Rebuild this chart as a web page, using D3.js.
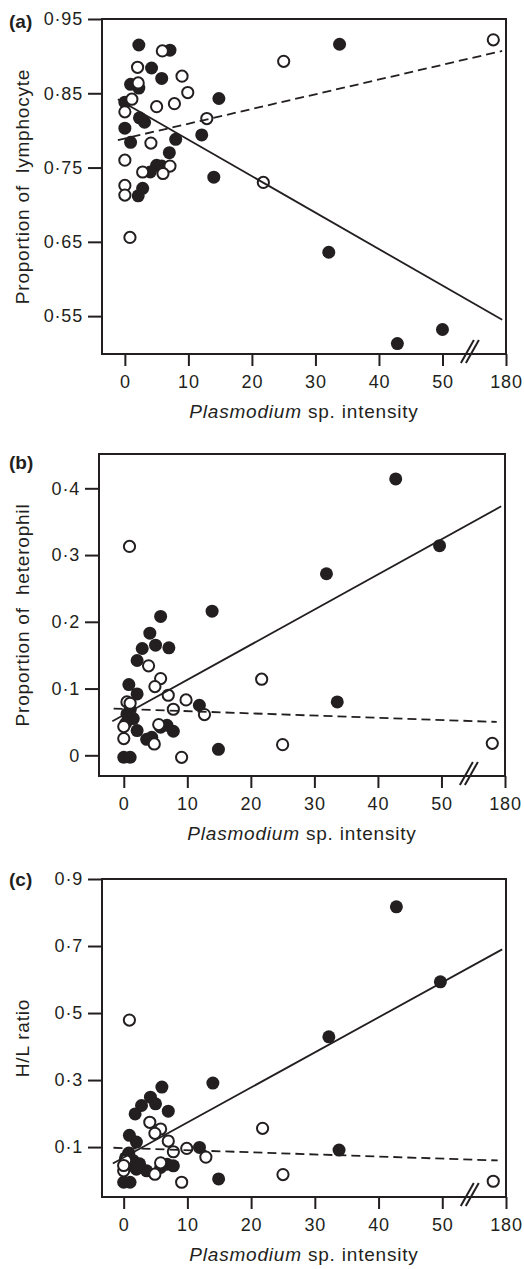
<!DOCTYPE html>
<html>
<head>
<meta charset="utf-8">
<script src="https://cdn.jsdelivr.net/npm/d3@7"></script>
<style>
    body { margin: 0; background: #fff; }
    svg text { font-family: "Liberation Sans", Arial, Helvetica, sans-serif; fill: #231f20; }
    .axis text { font-size: 18px; letter-spacing: 0.8px; }
    .axis line { stroke: #231f20; stroke-width: 2px; }
    .axis path { display: none; }
    .frame { fill: none; stroke: #231f20; stroke-width: 2px; }
    .axis-title { font-size: 19px; letter-spacing: 0.8px; white-space: pre; }
    .panel-label { font-size: 19px; font-weight: bold; }
    .fit { fill: none; stroke: #231f20; stroke-width: 1.8px; }
    .fit.dashed { stroke-dasharray: 9, 5; }
    .dot-filled { fill: #231f20; }
    .dot-open { fill: #fff; stroke: #231f20; stroke-width: 2px; }
    .break { stroke: #231f20; stroke-width: 2px; }
</style>
</head>
<body>
<div id="chart"></div>
<script>

// x axis is shared, 180 sits after the axis break
var intensityTicks = [0, 10, 20, 30, 40, 50, 180];

// (a) lymphocytes
var lymphTicks = [0.55, 0.65, 0.75, 0.85, 0.95];
var lymphFilled = [
    [2.2, 0.915], [7.1, 0.908], [4.2, 0.884], [5.8, 0.870], [0.9, 0.862], [2.2, 0.857],
    [33.8, 0.916], [14.8, 0.843], [0, 0.838], [2.3, 0.817], [3.1, 0.811], [0, 0.803],
    [0.9, 0.784], [8.0, 0.788], [12.1, 0.794], [7.0, 0.770], [5.0, 0.753], [5.8, 0.752],
    [4.0, 0.744], [14.0, 0.737], [2.8, 0.722], [2.1, 0.712], [32.1, 0.636], [42.9, 0.513],
    [50.0, 0.532]
];
var lymphOpen = [
    [178, 0.922], [25.0, 0.893], [5.9, 0.907], [2.0, 0.885], [9.0, 0.873], [9.9, 0.851],
    [2.1, 0.864], [1.1, 0.842], [0, 0.825], [5.0, 0.832], [7.8, 0.836], [12.9, 0.816],
    [4.1, 0.783], [0, 0.760], [2.8, 0.744], [7.1, 0.752], [6.0, 0.742], [21.8, 0.730],
    [0, 0.726], [0, 0.713], [0.8, 0.656]
];
var lymphFilledFit = [[-1.1, 0.842], [179.4, 0.545]];
var lymphOpenFit = [[-1.1, 0.787], [179.4, 0.907]];

// (b) heterophils
var hetTicks = [0, 0.1, 0.2, 0.3, 0.4];
var hetFilled = [
    [42.8, 0.414], [49.7, 0.314], [31.9, 0.272], [13.9, 0.216], [5.8, 0.208], [4.1, 0.183],
    [2.9, 0.160], [5.0, 0.165], [7.1, 0.161], [2.1, 0.142], [0.8, 0.106], [2.1, 0.092],
    [11.9, 0.075], [33.6, 0.080], [14.9, 0.009], [0, -0.003], [1.0, -0.003], [0.5, 0.062],
    [1.5, 0.055], [0.3, 0.048], [2.1, 0.037], [3.6, 0.024], [4.4, 0.027], [5.8, 0.042],
    [6.8, 0.045], [7.8, 0.036], [1.0, 0.068]
];
var hetOpen = [
    [0.9, 0.313], [3.9, 0.134], [5.8, 0.115], [4.9, 0.103], [7.0, 0.090], [9.8, 0.083],
    [7.8, 0.069], [12.7, 0.061], [21.7, 0.114], [25.0, 0.016], [178, 0.018], [9.1, -0.003],
    [0.5, 0.080], [0, 0.043], [0, 0.025], [5.5, 0.046], [4.8, 0.017], [1.0, 0.078]
];
var hetFilledFit = [[-1.8, 0.051], [179.4, 0.373]];
var hetOpenFit = [[-1.6, 0.070], [178.7, 0.050]];

// (c) H/L ratio
var hlTicks = [0.1, 0.3, 0.5, 0.7, 0.9];
var hlFilled = [
    [42.8, 0.817], [49.7, 0.593], [32.2, 0.429], [14.0, 0.291], [6.0, 0.279], [4.2, 0.249],
    [2.8, 0.224], [5.0, 0.229], [7.0, 0.207], [1.8, 0.199], [0.9, 0.135], [2.0, 0.115],
    [11.9, 0.099], [33.8, 0.091], [14.9, 0.005], [0, -0.005], [1.0, -0.005], [0.3, 0.068],
    [1.5, 0.060], [2.5, 0.050], [3.6, 0.029], [5.8, 0.039], [6.8, 0.049], [7.8, 0.044],
    [2.0, 0.034], [0.8, 0.082], [1.3, 0.045]
];
var hlOpen = [
    [0.9, 0.479], [4.1, 0.174], [5.8, 0.154], [4.9, 0.141], [21.8, 0.156], [7.0, 0.118],
    [9.9, 0.096], [7.8, 0.086], [12.9, 0.070], [25.0, 0.018], [178, -0.002], [9.1, -0.005],
    [0, 0.029], [5.8, 0.053], [4.9, 0.019], [0.3, 0.060], [0, 0.045]
];
var hlFilledFit = [[-1.7, 0.051], [179.4, 0.690]];
var hlOpenFit = [[-1.6, 0.098], [178.7, 0.060]];


/*
 * ScatterVis - one panel of the figure
 */

ScatterVis = function(_svg, _opts) {
    this.svg = _svg;
    this.opts = _opts;

    this.initVis();
};

ScatterVis.prototype.initVis = function() {
    var vis = this;
    var o = vis.opts;

    vis.width = o.right - o.left;
    vis.height = o.bottom - o.top;

    vis.g = vis.svg.append("g")
        .attr("transform", "translate(" + o.left + "," + o.top + ")");

    // broken axis: 54..174 collapsed, same px per unit on both sides
    var pxPerUnit = vis.width / (60 - o.xMin);
    vis.breakPx = (54 - o.xMin) * pxPerUnit;

    vis.x = d3.scaleLinear()
        .domain([o.xMin, 54, 174, 180])
        .range([0, vis.breakPx, vis.breakPx, vis.width]);

    vis.y = d3.scaleLinear()
        .domain(o.yDomain)
        .range([vis.height, 0]);

    var fmt = d3.format(o.fmt);

    vis.xAxis = d3.axisBottom(vis.x)
        .tickValues(intensityTicks)
        .tickSize(12)
        .tickSizeOuter(0)
        .tickPadding(9);

    vis.yAxis = d3.axisLeft(vis.y)
        .tickValues(o.yTicks)
        .tickSize(14)
        .tickSizeOuter(0)
        .tickPadding(5)
        .tickFormat(function(d) { return d === 0 ? "0" : fmt(d).replace(".", "\u00b7"); });

    vis.g.append("g")
        .attr("class", "x-axis axis")
        .attr("transform", "translate(0," + vis.height + ")")
        .call(vis.xAxis);

    vis.g.append("g")
        .attr("class", "y-axis axis")
        .call(vis.yAxis);

    vis.g.append("rect")
        .attr("class", "frame")
        .attr("width", vis.width)
        .attr("height", vis.height);

    // the // marks
    [0, 5].forEach(function(dx) {
        vis.g.append("line")
            .attr("class", "break")
            .attr("x1", vis.breakPx - 7 + dx)
            .attr("y1", vis.height + 9)
            .attr("x2", vis.breakPx + 6 + dx)
            .attr("y2", vis.height - 14);
    });

    vis.g.selectAll(".dot-filled")
        .data(o.filled)
        .enter()
        .append("circle")
        .attr("class", "dot-filled")
        .attr("cx", function(d) { return vis.x(d[0]); })
        .attr("cy", function(d) { return vis.y(d[1]); })
        .attr("r", 6.5);

    vis.g.selectAll(".dot-open")
        .data(o.open)
        .enter()
        .append("circle")
        .attr("class", "dot-open")
        .attr("cx", function(d) { return vis.x(d[0]); })
        .attr("cy", function(d) { return vis.y(d[1]); })
        .attr("r", 5.6);

    var line = d3.line()
        .x(function(d) { return vis.x(d[0]); })
        .y(function(d) { return vis.y(d[1]); });

    vis.g.append("path")
        .datum(o.openFit)
        .attr("class", "fit dashed")
        .attr("d", line);

    vis.g.append("path")
        .datum(o.filledFit)
        .attr("class", "fit")
        .attr("d", line);

    // titles
    var xt = vis.g.append("text")
        .attr("class", "axis-title")
        .attr("x", vis.width / 2)
        .attr("y", vis.height + 64)
        .style("text-anchor", "middle");
    xt.append("tspan").style("font-style", "italic").text("Plasmodium");
    xt.append("tspan").text(" sp. intensity");

    vis.svg.append("text")
        .attr("class", "axis-title")
        .attr("transform", "translate(29," + (o.top + vis.height / 2) + ") rotate(-90)")
        .style("text-anchor", "middle")
        .text(o.yTitle);

    vis.svg.append("text")
        .attr("class", "panel-label")
        .attr("x", 9)
        .attr("y", o.labelY)
        .text(o.label);
};


var svg = d3.select("#chart").append("svg")
    .attr("width", 524)
    .attr("height", 1269);

new ScatterVis(svg, {
    left: 102, right: 506, top: 19, bottom: 354, xMin: -3.6,
    yDomain: [0.499, 0.95], yTicks: lymphTicks, fmt: ".2f",
    filled: lymphFilled, open: lymphOpen, filledFit: lymphFilledFit, openFit: lymphOpenFit,
    yTitle: "Proportion of  lymphocyte", label: "(a)", labelY: 28
});

new ScatterVis(svg, {
    left: 99, right: 505, top: 454, bottom: 776, xMin: -3.9,
    yDomain: [-0.031, 0.4514], yTicks: hetTicks, fmt: ".1f",
    filled: hetFilled, open: hetOpen, filledFit: hetFilledFit, openFit: hetOpenFit,
    yTitle: "Proportion of  heterophil", label: "(b)", labelY: 469
});

new ScatterVis(svg, {
    left: 102, right: 506, top: 879, bottom: 1197, xMin: -3.4,
    yDomain: [-0.049, 0.9], yTicks: hlTicks, fmt: ".1f",
    filled: hlFilled, open: hlOpen, filledFit: hlFilledFit, openFit: hlOpenFit,
    yTitle: "H/L ratio", label: "(c)", labelY: 886
});

</script>
</body>
</html>
